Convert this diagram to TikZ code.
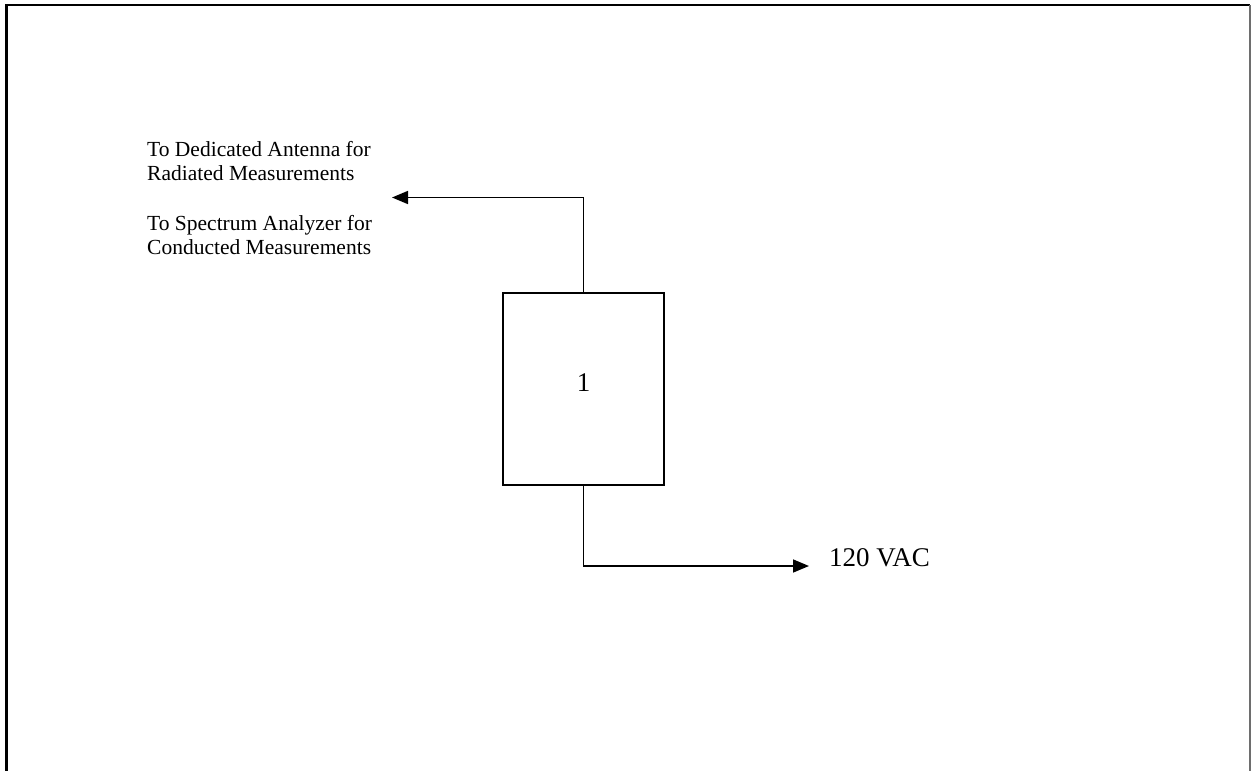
\documentclass[tikz,border=0pt]{standalone}
\usepackage{fontspec}
\setmainfont{Liberation Serif}
\usetikzlibrary{arrows.meta, positioning}
\definecolor{framegray}{HTML}{6E6E6E}

\begin{document}
\begin{tikzpicture}[
  x=1pt, y=-1pt,
  unit/.style={draw, line width=1.6pt, minimum width=161pt, minimum height=192pt, inner sep=0pt, font=\fontsize{27}{30}\selectfont},
  note/.style={anchor=north west, inner sep=0pt, align=left, font=\fontsize{21.5}{23.8}\selectfont},
  supply/.style={anchor=base west, inner sep=0pt, font=\fontsize{27}{30}\selectfont},
  arrow/.style={-{Triangle[length=16pt, width=13pt]}, line width=1.6pt}
]
\useasboundingbox (0,0) rectangle (1251,771);
\draw[line width=2.2pt] (6.5,771) -- (6.5,5) -- (1250,5);
\draw[framegray, line width=1.2pt] (1250,5) -- (1250,771);

\node[unit, text depth=12pt] (eut) at (583.5,389) {1};
\node[note] (antenna) at (147,141.2) {To Dedicated Antenna for\\Radiated Measurements};
\node[note] (analyzer) at (147,215.4) {To Spectrum Analyzer for\\Conducted Measurements};
\coordinate (rfout) at (392,197.5);
\node[supply] (vac) at (829,566) {120 VAC};

\draw[arrow] (eut.north) |- (rfout);
\draw[arrow, shorten >=20pt] (eut.south) |- (vac.base west);
\end{tikzpicture}
\end{document}
